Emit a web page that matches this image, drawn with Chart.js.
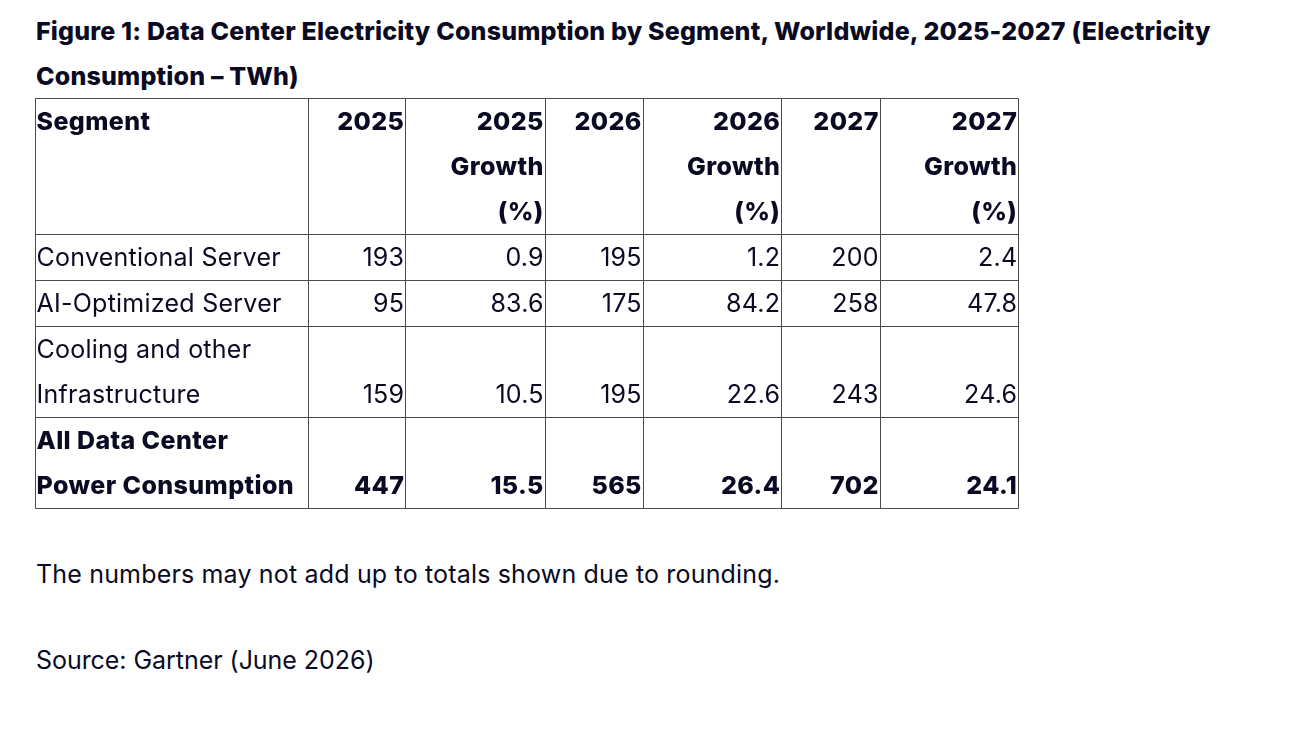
<!DOCTYPE html>
<html>
<head>
<meta charset="utf-8">
<script src="https://cdn.jsdelivr.net/npm/chart.js@4/dist/chart.umd.min.js"></script>
<style>
  html, body { margin: 0; padding: 0; background: #ffffff; width: 1296px; height: 731px; overflow: hidden; }
  .txt { position: absolute; left: 36px; font-family: "Inter", sans-serif; font-size: 25px; line-height: 45px; color: #0a0a23; margin: 0; white-space: nowrap; }
  #title { top: 8.5px; font-weight: 800; letter-spacing: 0.18px; }
  #note { top: 552px; font-weight: 400; letter-spacing: 0.17px; }
  #source { top: 638px; font-weight: 400; letter-spacing: -0.05px; }
  #tableChart { position: absolute; left: 30px; top: 93px; }
</style>
</head>
<body>
<h1 id="title" class="txt">Figure 1: Data Center Electricity Consumption by Segment, Worldwide, 2025-2027 (Electricity<br>Consumption – TWh)</h1>
<canvas id="tableChart" width="995" height="420"></canvas>
<p id="note" class="txt">The numbers may not add up to totals shown due to rounding.</p>
<p id="source" class="txt">Source: Gartner (June 2026)</p>
<script>
// ---------- data ----------
const segments = [
  ['Conventional Server'],
  ['AI-Optimized Server'],
  ['Cooling and other', 'Infrastructure'],
  ['All Data Center', 'Power Consumption']
];
const columnHeaders = [
  ['Segment'],
  ['2025'], ['2025', 'Growth', '(%)'],
  ['2026'], ['2026', 'Growth', '(%)'],
  ['2027'], ['2027', 'Growth', '(%)']
];
const consumption2025 = [193, 95, 159, 447];
const growth2025      = [0.9, 83.6, 10.5, 15.5];
const consumption2026 = [195, 175, 195, 565];
const growth2026      = [1.2, 84.2, 22.6, 26.4];
const consumption2027 = [200, 258, 243, 702];
const growth2027      = [2.4, 47.8, 24.6, 24.1];
const totalRowIndex = 3;

// ---------- layout / style ----------
const colWidths = [273, 97, 139.5, 98, 138.5, 98.5, 138.5];
const lineHeight = 45;
const firstBaseline = 32;
const textColor = '#0a0a23';
const borderColor = '#4a4a4a';
const fontFamily = '"Inter", sans-serif';
const fontSize = 25;

const valueColumns = [
  { values: consumption2025, fmt: v => String(v) },
  { values: growth2025,      fmt: v => v.toFixed(1) },
  { values: consumption2026, fmt: v => String(v) },
  { values: growth2026,      fmt: v => v.toFixed(1) },
  { values: consumption2027, fmt: v => String(v) },
  { values: growth2027,      fmt: v => v.toFixed(1) }
];

// column edges (scale units) and row edges
const colEdges = [0];
colWidths.forEach(w => colEdges.push(colEdges[colEdges.length - 1] + w));
const headerLines = Math.max(...columnHeaders.map(h => h.length));
const rowLines = [headerLines, ...segments.map(s => s.length)];
const rowEdges = [0];
rowLines.forEach(n => rowEdges.push(rowEdges[rowEdges.length - 1] + n * lineHeight + 1));

const tablePlugin = {
  id: 'tablePlugin',
  afterDraw(chart) {
    const ctx = chart.ctx;
    const xs = chart.scales.x, ys = chart.scales.y;
    const px = v => xs.getPixelForValue(v);
    const py = v => ys.getPixelForValue(v);
    ctx.save();
    // borders
    ctx.strokeStyle = borderColor;
    ctx.lineWidth = 1;
    ctx.beginPath();
    const top = Math.round(py(rowEdges[0])) + 0.5;
    const bottom = Math.round(py(rowEdges[rowEdges.length - 1])) + 0.5;
    const left = Math.round(px(colEdges[0])) + 0.5;
    const right = Math.round(px(colEdges[colEdges.length - 1])) + 0.5;
    colEdges.forEach(c => { const x = Math.round(px(c)) + 0.5; ctx.moveTo(x, top); ctx.lineTo(x, bottom); });
    rowEdges.forEach(r => { const y = Math.round(py(r)) + 0.5; ctx.moveTo(left, y); ctx.lineTo(right, y); });
    ctx.stroke();

    ctx.fillStyle = textColor;
    ctx.textBaseline = 'alphabetic';
    const drawCell = (lines, col, row, bold, align, bottomAlign) => {
      ctx.font = (bold ? '800 ' : '400 ') + fontSize + 'px ' + fontFamily;
      if ('letterSpacing' in ctx) ctx.letterSpacing = bold ? '0.4px' : '0.25px';
      ctx.textAlign = align;
      const rowTop = py(rowEdges[row]);
      const x = align === 'left' ? px(colEdges[col]) + 1.5 : px(colEdges[col + 1]) - 0.7;
      const offset = bottomAlign ? rowLines[row] - lines.length : 0;
      lines.forEach((t, i) => ctx.fillText(t, x, rowTop + firstBaseline + (i + offset) * lineHeight));
    };
    // header
    columnHeaders.forEach((h, c) => drawCell(h, c, 0, true, c === 0 ? 'left' : 'right', false));
    // body
    segments.forEach((s, r) => {
      const bold = r === totalRowIndex;
      drawCell(s, 0, r + 1, bold, 'left', false);
      valueColumns.forEach((vc, c) => drawCell([vc.fmt(vc.values[r])], c + 1, r + 1, bold, 'right', true));
    });
    ctx.restore();
  }
};

const canvas = document.getElementById('tableChart');
const tableW = colEdges[colEdges.length - 1];
const tableH = rowEdges[rowEdges.length - 1];
new Chart(canvas, {
  type: 'scatter',
  data: { datasets: [] },
  options: {
    responsive: false,
    animation: false,
    devicePixelRatio: 1,
    layout: { padding: { left: 5, top: 5, right: canvas.width - 5 - tableW, bottom: canvas.height - 5 - tableH } },
    plugins: { legend: { display: false }, tooltip: { enabled: false } },
    scales: {
      x: { type: 'linear', display: false, min: 0, max: tableW },
      y: { type: 'linear', display: false, min: 0, max: tableH, reverse: true }
    }
  },
  plugins: [tablePlugin]
});
</script>
</body>
</html>
